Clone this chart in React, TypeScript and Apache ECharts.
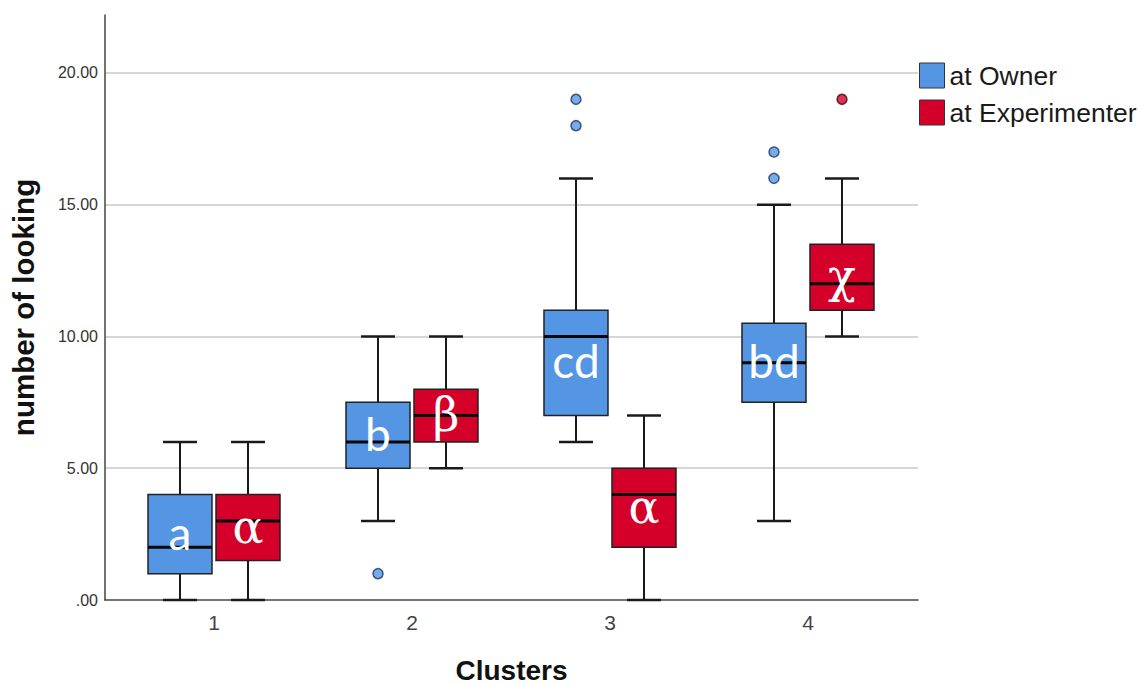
import { useEffect, useRef } from 'react';
import * as echarts from 'echarts';

const clusters = [1, 2, 3, 4];
const clusterLabels = ['1', '2', '3', '4'];

const ownerMin = [0, 3, 6, 3];
const ownerQ1 = [1, 5, 7, 7.5];
const ownerMedian = [2, 6, 10, 9];
const ownerQ3 = [4, 7.5, 11, 10.5];
const ownerMax = [6, 10, 16, 15];
const ownerLetters = ['a', 'b', 'cd', 'bd'];
const ownerOutliers = [
  [2, 1],
  [3, 18],
  [3, 19],
  [4, 16],
  [4, 17],
];

const expMin = [0, 5, 0, 10];
const expQ1 = [1.5, 6, 2, 11];
const expMedian = [3, 7, 4, 12];
const expQ3 = [4, 8, 5, 13.5];
const expMax = [6, 10, 7, 16];
const expLetters = ['α', 'β', 'α', 'χ'];
const expOutliers = [[4, 19]];

const yTicks = [0, 5, 10, 15, 20];

const BLUE = '#5596e4';
const RED = '#d4002a';
const BOX_W = 64;
const CAP_W = 34;
const OFFSET = 34;

function makeRender(offset: number, color: string, letters: string[], serif: boolean) {
  return (params: any, api: any) => {
    const x = api.value(0);
    const lo = api.coord([x, api.value(1)]);
    const q1 = api.coord([x, api.value(2)]);
    const med = api.coord([x, api.value(3)]);
    const q3 = api.coord([x, api.value(4)]);
    const hi = api.coord([x, api.value(5)]);
    const cx = lo[0] + offset;
    const half = BOX_W / 2;
    const ch = CAP_W / 2;
    const midY = (q1[1] + q3[1]) / 2 - (serif ? 1 : 2);
    const stroke = { stroke: '#1a1a1a', lineWidth: 2 };
    return {
      type: 'group',
      children: [
        { type: 'line', shape: { x1: cx, y1: lo[1], x2: cx, y2: q1[1] }, style: stroke },
        { type: 'line', shape: { x1: cx, y1: q3[1], x2: cx, y2: hi[1] }, style: stroke },
        { type: 'line', shape: { x1: cx - ch, y1: lo[1], x2: cx + ch, y2: lo[1] }, style: { stroke: '#1a1a1a', lineWidth: 2.5 } },
        { type: 'line', shape: { x1: cx - ch, y1: hi[1], x2: cx + ch, y2: hi[1] }, style: { stroke: '#1a1a1a', lineWidth: 2.5 } },
        {
          type: 'rect',
          shape: { x: cx - half, y: q3[1], width: BOX_W, height: q1[1] - q3[1] },
          style: { fill: color, stroke: '#222', lineWidth: 1.5 },
        },
        { type: 'line', shape: { x1: cx - half, y1: med[1], x2: cx + half, y2: med[1] }, style: { stroke: '#050505', lineWidth: 3 } },
        {
          type: 'text',
          style: {
            text: letters[params.dataIndex],
            x: cx,
            y: midY,
            fill: '#ffffff',
            fontSize: 46,
            fontFamily: serif ? "'DejaVu Serif', 'Liberation Serif', serif" : 'Lato',
            align: 'center',
            verticalAlign: 'middle',
          },
        },
      ],
    };
  };
}

export default function App() {
  const ref = useRef<HTMLDivElement>(null);
  useEffect(() => {
    const chart = echarts.init(ref.current!, null, { renderer: 'svg' });
    const ownerData = clusters.map((c, i) => [c, ownerMin[i], ownerQ1[i], ownerMedian[i], ownerQ3[i], ownerMax[i]]);
    const expData = clusters.map((c, i) => [c, expMin[i], expQ1[i], expMedian[i], expQ3[i], expMax[i]]);
    const option: any = {
      animation: false,
      backgroundColor: '#ffffff',
      grid: { left: 105, top: 15, width: 813, height: 585, containLabel: false, outerBoundsMode: 'none' },
      legend: {
        orient: 'vertical',
        left: 919,
        top: 62,
        padding: 0,
        itemWidth: 25,
        itemHeight: 25,
        itemGap: 10,
        textStyle: { fontSize: 26.5, lineHeight: 25, color: '#1a1a1a', fontFamily: 'Liberation Sans' },
        itemStyle: { borderColor: '#333', borderWidth: 1 },
        data: [
          { name: 'at Owner', icon: 'rect' },
          { name: 'at Experimenter', icon: 'rect' },
        ],
      },
      xAxis: {
        type: 'value',
        min: 0.4495,
        max: 4.5556,
        name: 'Clusters',
        nameLocation: 'middle',
        nameGap: 58,
        nameTextStyle: { fontSize: 28, lineHeight: 24, fontWeight: 'bold', color: '#111', fontFamily: 'Liberation Sans' },
        axisLine: { show: true, onZero: false, lineStyle: { color: '#444', width: 1.5 } },
        axisTick: { show: false },
        splitLine: { show: false },
        axisLabel: {
          customValues: clusters,
          formatter: (v: number) => clusterLabels[clusters.indexOf(v)] ?? '',
          fontSize: 21,
          color: '#444',
          margin: 12,
          fontFamily: 'Liberation Sans',
        },
      },
      yAxis: {
        type: 'value',
        min: 0,
        max: 22.2,
        interval: 5,
        name: 'number of looking',
        nameLocation: 'middle',
        nameRotate: 90,
        nameGap: 67,
        nameTextStyle: { fontSize: 29.5, fontWeight: 'bold', color: '#111', fontFamily: 'Liberation Sans' },
        axisLine: { show: true, lineStyle: { color: '#444', width: 1.5 } },
        axisTick: { show: false },
        splitLine: { show: true, showMaxLine: false, showMinLine: false, lineStyle: { color: '#d6d6d6', width: 2 } },
        axisLabel: {
          showMaxLabel: false,
          fontSize: 16,
          color: '#333',
          margin: 7,
          fontFamily: 'Liberation Sans',
          formatter: (v: number) => (yTicks.includes(v) ? (v === 0 ? '.00' : v.toFixed(2)) : ''),
        },
      },
      series: [
        {
          name: 'at Owner',
          type: 'custom',
          itemStyle: { color: BLUE },
          encode: { x: 0, y: [1, 2, 3, 4, 5] },
          renderItem: makeRender(-OFFSET, BLUE, ownerLetters, false),
          data: ownerData,
          z: 3,
        },
        {
          name: 'at Experimenter',
          type: 'custom',
          itemStyle: { color: RED },
          encode: { x: 0, y: [1, 2, 3, 4, 5] },
          renderItem: makeRender(OFFSET, RED, expLetters, true),
          data: expData,
          z: 3,
        },
        {
          name: 'at Owner',
          type: 'scatter',
          symbol: 'circle',
          symbolSize: 10,
          symbolOffset: [-OFFSET, 0],
          itemStyle: { color: BLUE, borderColor: '#1f3560', borderWidth: 1.5 },
          data: ownerOutliers,
          z: 4,
        },
        {
          name: 'at Experimenter',
          type: 'scatter',
          symbol: 'circle',
          symbolSize: 10,
          symbolOffset: [OFFSET, 0],
          itemStyle: { color: RED, borderColor: '#4a0010', borderWidth: 1.5 },
          data: expOutliers,
          z: 4,
        },
      ],
    };
    chart.setOption(option);
    return () => chart.dispose();
  }, []);
  return <div ref={ref} style={{ position: 'fixed', left: 0, top: 0, width: 1147, height: 684 }} />;
}
